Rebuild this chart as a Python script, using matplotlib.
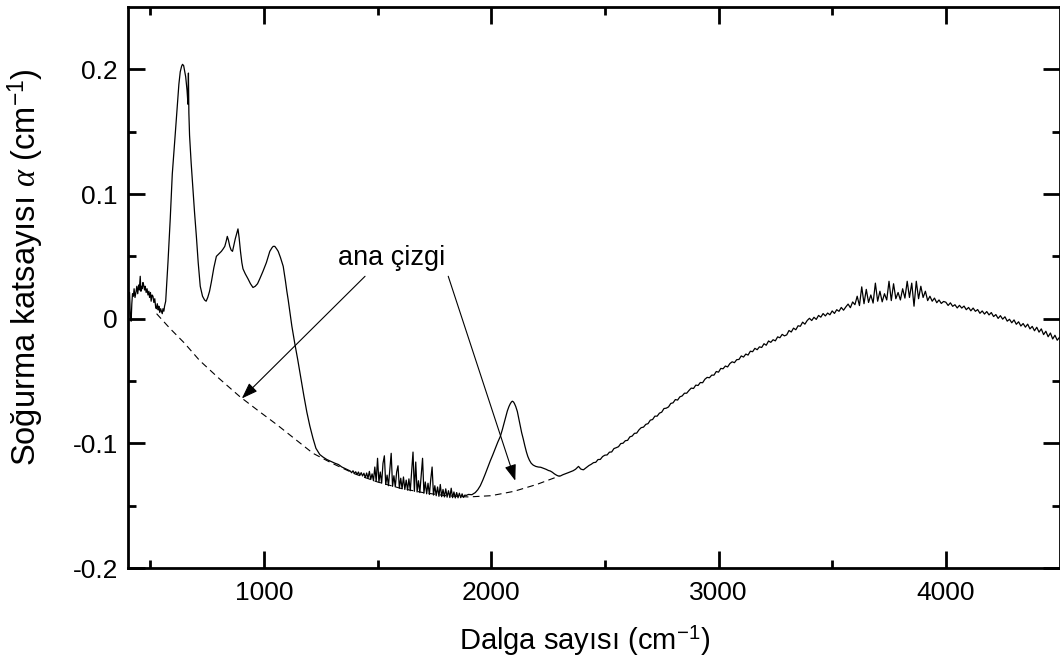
import numpy as np
import matplotlib
matplotlib.use("Agg")
import matplotlib.pyplot as plt

plt.rcParams['font.family'] = ['Liberation Sans', 'DejaVu Sans']
plt.rcParams['mathtext.fontset'] = 'custom'
plt.rcParams['mathtext.rm'] = 'Liberation Sans'
plt.rcParams['mathtext.it'] = 'Liberation Serif:italic'

# ---------------- data ----------------
# early noisy part
wn_a = [402, 405, 409, 412, 416, 419, 422, 426, 429, 433, 438, 441, 445, 449, 452, 456, 459, 462, 465, 468,
        471, 475, 478, 482, 486, 490, 494, 497, 501, 504, 508, 512, 516, 520, 524, 527, 531, 535, 538, 542,
        546, 549, 553, 556, 560, 563]
ab_a = [0.010, 0.019, 0.021, 0.004, -0.002, 0.012, 0.020, 0.018, 0.024, 0.017, 0.022, 0.026, 0.020, 0.027,
        0.023, 0.034, 0.022, 0.026, 0.024, 0.029, 0.027, 0.023, 0.026, 0.021, 0.024, 0.019, 0.022, 0.017,
        0.021, 0.014, 0.019, 0.018, 0.013, 0.016, 0.009, 0.008, 0.012, 0.007, 0.010, 0.005, 0.008, 0.006,
        0.004, 0.008, 0.006, 0.010]

# absorption bands 570-1380
wn_b = [568, 578, 588, 597, 602, 610, 618, 626, 632, 638, 642, 647, 651, 656, 662, 666, 668, 670, 673, 680,
        688, 695, 703, 711, 720, 730, 739, 746, 753, 761, 769, 780, 791, 802, 813, 821, 828, 834, 839, 844,
        850, 856, 862, 868, 874, 880, 886, 891, 897, 903, 908, 918, 930, 941, 952, 962, 972, 982, 996, 1011,
        1026, 1036, 1041, 1048, 1056, 1063, 1073, 1085, 1095, 1101, 1107, 1114, 1123, 1136, 1149, 1163, 1176,
        1189, 1202, 1216, 1229, 1246, 1260, 1277, 1295, 1313, 1328, 1343, 1360, 1374]
ab_b = [0.014, 0.045, 0.080, 0.116, 0.128, 0.148, 0.168, 0.188, 0.198, 0.2025, 0.204, 0.203, 0.199, 0.194,
        0.183, 0.172, 0.197, 0.165, 0.147, 0.125, 0.104, 0.085, 0.066, 0.045, 0.026, 0.018, 0.015, 0.014,
        0.017, 0.022, 0.0295, 0.041, 0.050, 0.052, 0.054, 0.056, 0.058, 0.062, 0.066, 0.063, 0.058, 0.055,
        0.054, 0.059, 0.064, 0.068, 0.072, 0.065, 0.054, 0.045, 0.040, 0.036, 0.032, 0.028, 0.025, 0.026,
        0.028, 0.032, 0.038, 0.045, 0.054, 0.057, 0.058, 0.058, 0.056, 0.054, 0.049, 0.042, 0.030, 0.022,
        0.015, 0.006, -0.006, -0.020, -0.033, -0.048, -0.062, -0.075, -0.086, -0.096, -0.104, -0.109, -0.111,
        -0.113, -0.1145, -0.116, -0.117, -0.119, -0.1205, -0.1218]

# noisy trough, sampled every 6 cm-1 from 1380
wn_c_start, wn_c_step = 1380, 6
ab_c = [-0.1222, -0.1236, -0.1220, -0.1241, -0.1228, -0.1250, -0.1230, -0.1258, -0.1235, -0.1262,
        -0.1240, -0.1275, -0.1238, -0.1280, -0.1225, -0.1290, -0.1245, -0.1300, -0.1190, -0.1305,
        -0.1120, -0.1310, -0.1230, -0.1320, -0.1160, -0.1100, -0.1330, -0.1255, -0.1340, -0.1210,
        -0.1080, -0.1345, -0.1260, -0.1350, -0.1230, -0.1180, -0.1360, -0.1280, -0.1365, -0.1270,
        -0.1370, -0.1295, -0.1375, -0.1285, -0.1380, -0.1220, -0.1070, -0.1385, -0.1150, -0.1390,
        -0.1300, -0.1395, -0.1260, -0.1120, -0.1400, -0.1310, -0.1405, -0.1320, -0.1410, -0.1290,
        -0.1190, -0.1415, -0.1340, -0.1420, -0.1350, -0.1425, -0.1330, -0.1428, -0.1370, -0.1430,
        -0.1365, -0.1432, -0.1380, -0.1435, -0.1360, -0.1436, -0.1390, -0.1438, -0.1395, -0.1437,
        -0.1400, -0.1436, -0.1405, -0.1434, -0.1415]

# band near 2090 cm-1
wn_d = [1890, 1900, 1915, 1930, 1941, 1952, 1963, 1974, 1985, 1996, 2007, 2018, 2029, 2040, 2049, 2058,
        2065, 2071, 2078, 2084, 2089, 2093, 2098, 2102, 2108, 2115, 2121, 2128, 2134, 2141, 2148, 2155,
        2161, 2168, 2176, 2185, 2196, 2207, 2218, 2230, 2241, 2252, 2260, 2269, 2278, 2287, 2295, 2304,
        2315, 2327, 2338, 2349, 2360, 2371, 2378, 2384, 2389, 2393, 2400, 2406, 2418, 2430, 2440]
ab_d = [-0.1418, -0.1410, -0.1412, -0.1395, -0.1372, -0.1340, -0.1295, -0.1245, -0.1192, -0.1140,
        -0.1092, -0.1040, -0.0990, -0.0945, -0.0890, -0.0830, -0.0780, -0.0740, -0.0705, -0.0682,
        -0.0668, -0.0662, -0.0668, -0.0680, -0.0705, -0.0745, -0.0800, -0.0860, -0.0915, -0.0965,
        -0.1020, -0.1070, -0.1105, -0.1135, -0.1160, -0.1175, -0.1185, -0.1190, -0.1192, -0.1200,
        -0.1208, -0.1218, -0.1222, -0.1232, -0.1245, -0.1255, -0.1262, -0.1262, -0.1252, -0.1244,
        -0.1236, -0.1228, -0.1220, -0.1208, -0.1195, -0.1185, -0.1195, -0.1205, -0.1210, -0.1212,
        -0.1195, -0.1178, -0.1168]

# broad background rise, sampled every 10 cm-1 from 2450
wn_e_start, wn_e_step = 2450, 10
ab_e = [-0.1155, -0.1152, -0.1130, -0.1129, -0.1106,
        -0.1095, -0.1093, -0.1071, -0.1069, -0.1042, -0.1035, -0.1027, -0.1002, -0.0999, -0.0979,
        -0.0976, -0.0948, -0.0942, -0.0920, -0.0918, -0.0892, -0.0874, -0.0870, -0.0848, -0.0842,
        -0.0814, -0.0809, -0.0782, -0.0782, -0.0758, -0.0750, -0.0721, -0.0718, -0.0708, -0.0680,
        -0.0675, -0.0649, -0.0653, -0.0627, -0.0620, -0.0598, -0.0598, -0.0576, -0.0557, -0.0560,
        -0.0533, -0.0536, -0.0512, -0.0514, -0.0486, -0.0471, -0.0474, -0.0453, -0.0453, -0.0424,
        -0.0429, -0.0399, -0.0402, -0.0380, -0.0387, -0.0360, -0.0346, -0.0353, -0.0329, -0.0327,
        -0.0299, -0.0308, -0.0284, -0.0292, -0.0261, -0.0265, -0.0238, -0.0249, -0.0226, -0.0231,
        -0.0201, -0.0213, -0.0179, -0.0190, -0.0169, -0.0178, -0.0146, -0.0153, -0.0126, -0.0138,
        -0.0130, -0.0095, -0.0107, -0.0076, -0.0089, -0.0057, -0.0061, -0.0028, -0.0044, -0.0015,
        0.0003, -0.0015, 0.0011, -0.0006, 0.0026, 0.0012, 0.0041, 0.0022, 0.0045, 0.0031,
        0.0062, 0.0042, 0.0072, 0.0059, 0.0090, 0.0068, 0.0094, 0.0117, 0.0088, 0.0134,
        0.0112, 0.0180, 0.0105, 0.0255, 0.0120, 0.0235, 0.0130, 0.0190, 0.0125, 0.0285,
        0.0140, 0.0220, 0.0135, 0.0200, 0.0150, 0.0300, 0.0145, 0.0280, 0.0160, 0.0210,
        0.0150, 0.0240, 0.0165, 0.0300, 0.0170, 0.0285, 0.0100, 0.0300, 0.0160, 0.0260,
        0.0170, 0.0220, 0.0145, 0.0180, 0.0140, 0.0165, 0.0128, 0.0150, 0.0122, 0.0138,
        0.0132, 0.0106, 0.0127, 0.0099, 0.0112, 0.0086, 0.0107, 0.0085, 0.0101, 0.0072,
        0.0090, 0.0063, 0.0085, 0.0059, 0.0073, 0.0043, 0.0062, 0.0037, 0.0057, 0.0030,
        0.0049, 0.0017, 0.0033, 0.0002, 0.0024, -0.0004, 0.0015, -0.0020, -0.0005, -0.0033,
        -0.0010, -0.0045, -0.0025, -0.0059, -0.0039, -0.0068, -0.0044, -0.0082, -0.0062, -0.0097,
        -0.0069, -0.0108, -0.0082, -0.0128, -0.0101, -0.0145, -0.0115, -0.0163, -0.0133, -0.0173,
        -0.0150]

# dashed baseline ("ana çizgi")
wn_base = [528, 585, 650, 717, 800, 894, 980, 1057, 1140, 1216, 1300, 1400, 1500, 1600, 1700, 1800,
           1900, 2000, 2100, 2200, 2300]
ab_base = [0.004, -0.0075, -0.0195, -0.0335, -0.0475, -0.0625, -0.0745, -0.0850, -0.0970, -0.1080,
           -0.1160, -0.1245, -0.1310, -0.1360, -0.1395, -0.1420, -0.1430, -0.1420, -0.1385, -0.1330,
           -0.1262]

annot_text = "ana çizgi"
annot_pos = (1560, 0.049)
arrow_tails = [(1445, 0.034), (1811, 0.034)]
arrow_heads = [(903, -0.064), (2106, -0.130)]

x_ticks = [1000, 2000, 3000, 4000]
y_ticks = [-0.2, -0.1, 0.0, 0.1, 0.2]
y_ticklabels = ["-0.2", "-0.1", "0", "0.1", "0.2"]

# ---------------- assemble ----------------
wn_c = wn_c_start + wn_c_step * np.arange(len(ab_c))
wn_e = wn_e_start + wn_e_step * np.arange(len(ab_e))
wavenumber = np.concatenate([wn_a, wn_b, wn_c, wn_d, wn_e])
absorb = np.concatenate([ab_a, ab_b, ab_c, ab_d, ab_e])

fig = plt.figure(figsize=(10.6, 6.68), dpi=100)
ax = fig.add_axes([127.5 / 1060, 1 - 568 / 668, (1059.5 - 127.5) / 1060, (568 - 7) / 668])

ax.plot(wn_base, ab_base, color='black', lw=0.8, linestyle=(0, (6, 4)))
ax.plot(wavenumber, absorb, color='black', lw=0.9)

ax.set_xlim(400, 4500)
ax.set_ylim(-0.2, 0.25)
ax.set_xticks(x_ticks)
ax.set_xticks(np.arange(500, 4500, 500), minor=True)
ax.set_yticks(y_ticks)
ax.set_yticklabels(y_ticklabels)
ax.set_yticks(np.arange(-0.15, 0.25, 0.1), minor=True)

for s in ax.spines.values():
    s.set_linewidth(2.0)
ax.tick_params(which='both', direction='in', top=True, right=True, width=2.0, labelsize=19)
ax.tick_params(which='major', length=12.5)
ax.tick_params(which='minor', length=6)
ax.tick_params(axis='y', pad=7)
ax.tick_params(axis='x', pad=9)

ax.set_xlabel("Dalga sayısı (cm$^{-1}$)", fontsize=21)
ax.set_ylabel(r"Soğurma katsayısı $\alpha$ (cm$^{-1}$)", fontsize=23.5)
ax.xaxis.set_label_coords(0.49, -0.1)
ax.yaxis.set_label_coords(-0.087, 0.536)

ax.text(annot_pos[0], annot_pos[1], annot_text, fontsize=19.5, ha='center', va='center')
for tail, head in zip(arrow_tails, arrow_heads):
    ax.annotate('', xy=head, xytext=tail,
                arrowprops=dict(arrowstyle='-|>,head_length=0.7,head_width=0.25', color='black',
                                lw=0.8, mutation_scale=14, shrinkA=0, shrinkB=0))

fig.savefig('out.png', dpi=100)
